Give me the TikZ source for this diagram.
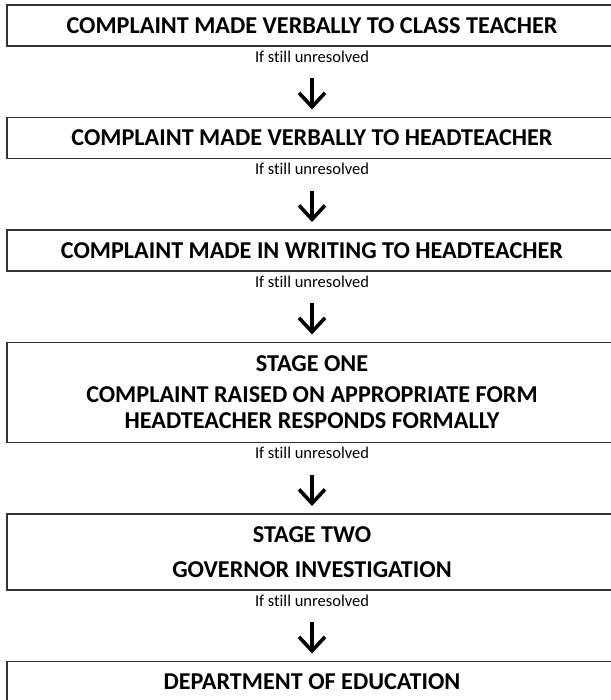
\documentclass[tikz,border=0pt]{standalone}
\usepackage{fontspec}
\setmainfont{Carlito}[Ligatures=NoCommon]
\usepackage{tikz}
\usetikzlibrary{positioning, arrows.meta}

\begin{document}
\begin{tikzpicture}[x=1bp, y=1bp,
        node distance=71.5bp,
        stagebox/.style={draw=black!80, line width=1.3bp, minimum width=610bp, minimum height=#1,
            inner sep=0pt, outer sep=0pt, align=center, font=\fontsize{24.2bp}{26bp}\selectfont\bfseries},
        note/.style={inner sep=0pt, font=\fontsize{16.5bp}{18bp}\selectfont},
        nextarrow/.style={-{Straight Barb[length=14bp, width=26bp]}, line width=3.6bp,
            shorten <=16bp, shorten >=8bp}
    ]
        \useasboundingbox (0,0) rectangle (611,-700);
        \clip (0,0) rectangle (611,-700);

        \node[stagebox=41bp] (s1) at (312,-25.5) {COMPLAINT MADE VERBALLY TO CLASS TEACHER};
        \node[stagebox=41bp, below=of s1] (s2) {COMPLAINT MADE VERBALLY TO HEADTEACHER};
        \node[stagebox=41bp, below=of s2] (s3) {COMPLAINT MADE IN WRITING TO HEADTEACHER};
        \node[stagebox=100bp, below=of s3] (s4) {STAGE ONE\\[5bp] COMPLAINT RAISED ON APPROPRIATE FORM\\ HEADTEACHER RESPONDS FORMALLY};
        \node[stagebox=76bp, below=of s4] (s5) {STAGE TWO\\[9bp] GOVERNOR INVESTIGATION};
        \node[stagebox=41bp, below=of s5] (s6) {DEPARTMENT OF EDUCATION};

        % note under each box, arrow down to the next one
        \foreach \i/\j in {1/2, 2/3, 3/4, 4/5, 5/6} {
            \node[note, below=4.5bp of s\i] (u\i) {If still unresolved};
            \draw[nextarrow] (u\i) -- (s\j);
        }
    \end{tikzpicture}
\end{document}
